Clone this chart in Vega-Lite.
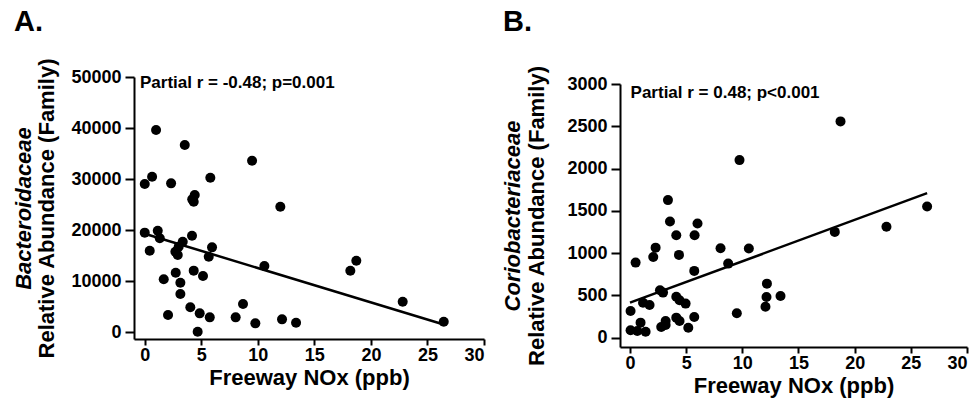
{
  "$schema": "https://vega.github.io/schema/vega-lite/v6.json",
  "padding": {"left": 12, "top": 7, "right": 5, "bottom": 2},
  "spacing": 16,
  "background": "white",
  "config": {
    "font": "Liberation Sans",
    "view": {"stroke": null},
    "axis": {
      "grid": false,
      "domainColor": "black",
      "domainWidth": 2,
      "tickColor": "black",
      "tickWidth": 2,
      "labelFont": "Liberation Sans",
      "labelFontSize": 18,
      "labelFontWeight": "bold",
      "labelColor": "black",
      "titleFont": "Liberation Sans",
      "titleFontSize": 22,
      "titleFontWeight": "bold",
      "titleColor": "black",
      "format": "d"
    },
    "axisX": {"tickSize": 6, "labelPadding": 1, "titlePadding": 3},
    "axisY": {"tickSize": 9, "labelPadding": 4},
    "title": {"fontSize": 29, "fontWeight": "bold", "color": "black", "anchor": "start", "frame": "bounds", "font": "Liberation Sans"}
  },
  "datasets": {
    "A": [
      {"nox": 0, "abundance": 29020}, {"nox": 0.65, "abundance": 30450}, {"nox": 1.0, "abundance": 39600},
      {"nox": 0, "abundance": 19480}, {"nox": 0.44, "abundance": 15950}, {"nox": 1.15, "abundance": 19870},
      {"nox": 1.33, "abundance": 18370}, {"nox": 1.68, "abundance": 10330}, {"nox": 2.06, "abundance": 3330},
      {"nox": 2.33, "abundance": 29150}, {"nox": 2.71, "abundance": 15750}, {"nox": 2.74, "abundance": 11630},
      {"nox": 2.92, "abundance": 15100}, {"nox": 3.0, "abundance": 16730}, {"nox": 3.15, "abundance": 9670},
      {"nox": 3.15, "abundance": 7450}, {"nox": 3.36, "abundance": 17710}, {"nox": 3.54, "abundance": 36670},
      {"nox": 4.03, "abundance": 4840}, {"nox": 4.18, "abundance": 18890}, {"nox": 4.2, "abundance": 26010},
      {"nox": 4.33, "abundance": 12030}, {"nox": 4.33, "abundance": 25550}, {"nox": 4.42, "abundance": 26860},
      {"nox": 4.68, "abundance": 60}, {"nox": 4.86, "abundance": 3660}, {"nox": 5.15, "abundance": 10980},
      {"nox": 5.66, "abundance": 14770}, {"nox": 5.75, "abundance": 2870}, {"nox": 5.8, "abundance": 30260},
      {"nox": 5.95, "abundance": 16600}, {"nox": 8.04, "abundance": 2870}, {"nox": 8.69, "abundance": 5490},
      {"nox": 9.49, "abundance": 33590}, {"nox": 9.78, "abundance": 1700}, {"nox": 10.58, "abundance": 12940},
      {"nox": 11.99, "abundance": 24570}, {"nox": 12.14, "abundance": 2480}, {"nox": 13.38, "abundance": 1830},
      {"nox": 18.18, "abundance": 12020}, {"nox": 18.71, "abundance": 13980}, {"nox": 22.81, "abundance": 5940},
      {"nox": 26.44, "abundance": 2020}
    ],
    "B": [
      {"nox": 9.75, "abundance": 2100}, {"nox": 3.38, "abundance": 1627}, {"nox": 3.56, "abundance": 1373},
      {"nox": 6.01, "abundance": 1350}, {"nox": 4.12, "abundance": 1212}, {"nox": 5.75, "abundance": 1212},
      {"nox": 2.28, "abundance": 1065}, {"nox": 2.07, "abundance": 955}, {"nox": 4.36, "abundance": 979},
      {"nox": 0.5, "abundance": 888}, {"nox": 8.06, "abundance": 1058}, {"nox": 10.58, "abundance": 1054},
      {"nox": 8.74, "abundance": 876}, {"nox": 5.72, "abundance": 790}, {"nox": 2.67, "abundance": 561},
      {"nox": 2.94, "abundance": 533}, {"nox": 12.19, "abundance": 639}, {"nox": 12.15, "abundance": 482},
      {"nox": 13.4, "abundance": 494}, {"nox": 12.06, "abundance": 367}, {"nox": 9.51, "abundance": 289},
      {"nox": 4.12, "abundance": 485}, {"nox": 4.41, "abundance": 443}, {"nox": 4.95, "abundance": 403},
      {"nox": 1.16, "abundance": 414}, {"nox": 1.74, "abundance": 387}, {"nox": 0.05, "abundance": 316},
      {"nox": 0.05, "abundance": 88}, {"nox": 0.94, "abundance": 178}, {"nox": 0.65, "abundance": 79},
      {"nox": 1.39, "abundance": 71}, {"nox": 2.78, "abundance": 127}, {"nox": 3.17, "abundance": 198},
      {"nox": 3.17, "abundance": 150}, {"nox": 4.12, "abundance": 237}, {"nox": 4.41, "abundance": 198},
      {"nox": 5.19, "abundance": 118}, {"nox": 5.72, "abundance": 245}, {"nox": 18.74, "abundance": 2558},
      {"nox": 18.23, "abundance": 1251}, {"nox": 22.83, "abundance": 1311}, {"nox": 26.45, "abundance": 1551}
    ],
    "lineA": [{"nox": 0, "abundance": 19280}, {"nox": 26.44, "abundance": 1470}],
    "lineB": [{"nox": 0, "abundance": 414}, {"nox": 26.45, "abundance": 1709}],
    "noteA": [{"nox": -0.42, "abundance": 47840, "label": "Partial r = -0.48; p=0.001"}],
    "noteB": [{"nox": 0.05, "abundance": 2838, "label": "Partial r = 0.48; p<0.001"}]
  },
  "hconcat": [
    {
      "width": 350,
      "height": 262,
      "title": {"text": "A.", "offset": 21, "dx": 2},
      "resolve": {"axis": {"y": "independent"}},
      "layer": [
        {
          "data": {"name": "A"},
          "mark": {"type": "circle", "size": 100, "opacity": 1, "color": "black"},
          "encoding": {
            "x": {"field": "nox", "type": "quantitative",
              "scale": {"domain": [-0.95, 30], "nice": false, "zero": false},
              "axis": {"values": [0, 5, 10, 15, 20, 25, 30], "title": "Freeway NOx (ppb)"}},
            "y": {"field": "abundance", "type": "quantitative",
              "scale": {"domain": [-1370, 50000], "nice": false, "zero": false},
              "axis": {"values": [0, 10000, 20000, 30000, 40000, 50000], "title": "Relative Abundance (Family)", "titlePadding": 12, "orient": "left"}}
          }
        },
        {
          "data": {"name": "lineA"},
          "mark": {"type": "line", "color": "black", "strokeWidth": 2.5},
          "encoding": {
            "x": {"field": "nox", "type": "quantitative"},
            "y": {"field": "abundance", "type": "quantitative",
              "axis": {"title": "Bacteroidaceae", "titleFontStyle": "italic", "labels": false, "ticks": false, "domain": false, "orient": "left", "titlePadding": 99}}
          }
        },
        {
          "data": {"name": "noteA"},
          "mark": {"type": "text", "align": "left", "baseline": "alphabetic", "fontSize": 17, "fontWeight": "bold", "color": "black"},
          "encoding": {
            "x": {"field": "nox", "type": "quantitative"},
            "y": {"field": "abundance", "type": "quantitative", "axis": null},
            "text": {"field": "label"}
          }
        }
      ]
    },
    {
      "width": 347,
      "height": 270,
      "title": {"text": "B.", "offset": 28, "dx": 2},
      "resolve": {"axis": {"y": "independent"}},
      "layer": [
        {
          "data": {"name": "B"},
          "mark": {"type": "circle", "size": 100, "opacity": 1, "color": "black"},
          "encoding": {
            "x": {"field": "nox", "type": "quantitative",
              "scale": {"domain": [-0.89, 30], "nice": false, "zero": false},
              "axis": {"values": [0, 5, 10, 15, 20, 25, 30], "title": "Freeway NOx (ppb)"}},
            "y": {"field": "abundance", "type": "quantitative",
              "scale": {"domain": [-110, 3000], "range": [270, 7], "nice": false, "zero": false},
              "axis": {"values": [0, 500, 1000, 1500, 2000, 2500, 3000], "title": "Relative Abundance (Family)", "titlePadding": 18, "orient": "left"}}
          }
        },
        {
          "data": {"name": "lineB"},
          "mark": {"type": "line", "color": "black", "strokeWidth": 2.5},
          "encoding": {
            "x": {"field": "nox", "type": "quantitative"},
            "y": {"field": "abundance", "type": "quantitative",
              "axis": {"title": "Coriobacteriaceae", "titleFontStyle": "italic", "labels": false, "ticks": false, "domain": false, "orient": "left", "titlePadding": 96}}
          }
        },
        {
          "data": {"name": "noteB"},
          "mark": {"type": "text", "align": "left", "baseline": "alphabetic", "fontSize": 17, "fontWeight": "bold", "color": "black"},
          "encoding": {
            "x": {"field": "nox", "type": "quantitative"},
            "y": {"field": "abundance", "type": "quantitative", "axis": null},
            "text": {"field": "label"}
          }
        }
      ]
    }
  ]
}
